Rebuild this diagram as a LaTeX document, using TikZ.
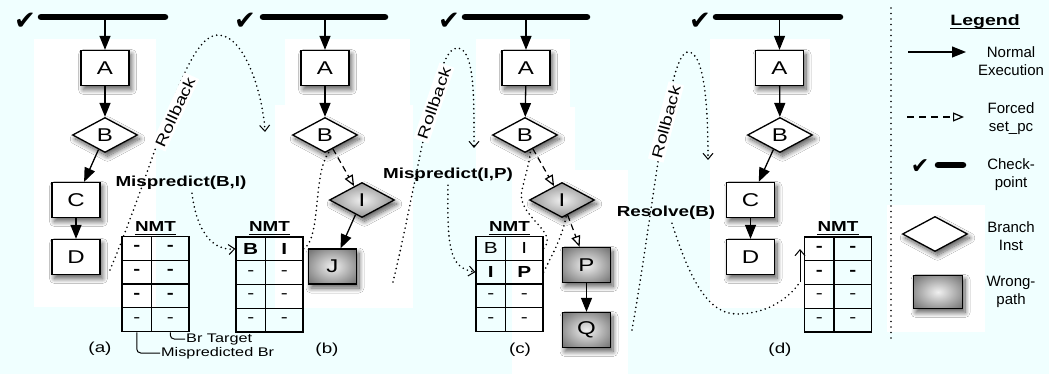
\documentclass[tikz,border=0pt]{standalone}
\usepackage{fontspec}
\setmainfont{Liberation Sans}
\newfontfamily\widefont[FakeStretch=1.3]{Liberation Sans}
\newfontfamily\symfont{DejaVu Sans}
\usetikzlibrary{shapes.geometric,arrows.meta,shadows.blur,matrix}
\definecolor{paper}{RGB}{240,255,255}
\pgfdeclareradialshading{wrongpath}{\pgfpoint{0bp}{0bp}}{color(0bp)=(black!6); color(10bp)=(black!20); color(32bp)=(black!52); color(50bp)=(black!68); color(75bp)=(black!72)}
\begin{document}
\begin{tikzpicture}[x=1pt,y=-1pt,
  shadowed/.style={blur shadow={shadow xshift=2.5pt,shadow yshift=-4pt,shadow blur radius=5pt,shadow blur steps=10,shadow opacity=65}},
  instbox/.style={rectangle,draw,line width=1.3pt,minimum width=48pt,minimum height=35pt,inner sep=0pt,shadowed,font=\widefont\fontsize{18.5}{18.5}\selectfont},
  okbox/.style={instbox,fill=white},
  wrongbox/.style={instbox,shade,shading=wrongpath},
  branch/.style={diamond,draw,line width=1.3pt,minimum width=65pt,minimum height=35pt,aspect=1.8,inner sep=0pt,shadowed,font=\widefont\fontsize{18.5}{18.5}\selectfont},
  okbranch/.style={branch,fill=white},
  wrongbranch/.style={branch,shade,shading=wrongpath},
  flow/.style={line width=1.3pt,-{Triangle[length=14pt,width=11pt]}},
  forced/.style={line width=1.2pt,dash pattern=on 6pt off 4pt,-{Triangle[open,length=11pt,width=9pt,line width=1.2pt]}},
  trail/.style={line width=1.8pt,line cap=round,dash pattern=on 0pt off 4.6pt},
  trailarrow/.style={trail,-{Straight Barb[length=6pt,width=10pt,line width=1pt]}},
  thinarrow/.style={line width=1pt,-{Straight Barb[length=6pt,width=10pt,line width=1pt]}},
  ckmark/.style={inner sep=0pt,font=\symfont\fontsize{26}{26}\selectfont},
  ckbar/.style={line width=6.5pt,line cap=round},
  nmt/.style={matrix of nodes,row sep=-1.3pt,column sep=-1.3pt,
    nodes={draw,line width=1.3pt,minimum height=23.8pt,inner sep=0pt,anchor=center,font=\widefont\fontsize{16}{16}\selectfont},
    column 1/.style={nodes={minimum width=29.5pt}},
    column 2/.style={nodes={minimum width=37.5pt}}},
  nmthead/.style={inner sep=0pt,font=\widefont\bfseries\fontsize{14.5}{14.5}\selectfont},
  event/.style={font=\widefont\bfseries\fontsize{14.5}{14.5}\selectfont},
  rollback/.style={fill=white,inner sep=2.5pt,font=\widefont\fontsize{15}{15}\selectfont},
  sublabel/.style={font=\widefont\fontsize{14.5}{14.5}\selectfont},
  note/.style={inner sep=1pt,font=\widefont\fontsize{12.5}{12.5}\selectfont},
  legtext/.style={align=center,font=\fontsize{15}{18}\selectfont}
]
\useasboundingbox (0,0) rectangle (1049,374);
\fill[paper] (0,0) rectangle (1049,374);

% white panels behind each flow
\fill[white] (34,39) rectangle (156,307);
\fill[white] (285,39) rectangle (410,105);
\fill[white] (275,105) rectangle (413,308);
\fill[white] (476,39) rectangle (570,107);
\fill[white] (476,107) rectangle (575,170);
\fill[white] (512,170) rectangle (628,374);
\fill[white] (710,39) rectangle (830,308);
\fill[white] (887,205) rectangle (985,332);

% ---------------- (a) ----------------
\node[ckmark] (ka) at (25,21) {✔};
\draw[ckbar] (41,17) -- (165,17);
\coordinate (ta) at (105,20);
\node[okbox] (Aa) at (105,68) {A};
\node[okbranch] (Ba) at (105,135) {B};
\node[okbox] (Ca) at (76,200) {C};
\node[okbox] (Da) at (76,257) {D};
\draw[flow] (ta) -- (Aa);
\draw[flow] (Aa) -- (Ba);
\draw[flow] (Ba) -- (Ca);
\draw[flow] (Ca) -- (Da);

\matrix (Ta) [nmt] at (155.5,284) {
  \textbf{-} & \textbf{-} \\
  \textbf{-} & \textbf{-} \\
  \textbf{-} & \textbf{-} \\
  - & - \\
};
\node[nmthead] (Ha) at (155.5,227) {NMT};
\draw[line width=1.5pt] ([yshift=-2.5pt]Ha.base west) -- ([yshift=-2.5pt]Ha.base east);
\node[note,anchor=west] (btg) at (185,339) {Br Target};
\node[note,anchor=west] (mbr) at (160,353) {Mispredicted Br};
\draw[line width=1pt,rounded corners=4pt] (Ta-4-1.south) |- (mbr.west);
\draw[line width=1pt,rounded corners=4pt] (Ta-4-2.south) |- (btg.west);
\node[sublabel] (la) at (100,349) {(a)};

% rollback a -> b
\coordinate (ra0) at (110,270);
\coordinate (ra1) at (265,132);
\draw[trailarrow] (ra0) .. controls (160,150) and (185,35) .. (218,35) .. controls (245,35) and (263,95) .. (ra1);
\node[rollback,rotate=65] (rla) at (175,112) {Rollback};

% ---------------- (b) ----------------
\node[ckmark] (kb) at (245,21) {✔};
\draw[ckbar] (263,17) -- (385,17);
\coordinate (tb) at (325,20);
\node[okbox] (Ab) at (325,68) {A};
\node[okbranch] (Bb) at (325,135) {B};
\node[wrongbranch] (Ib) at (362,200) {I};
\node[wrongbox] (Jb) at (332.5,266.5) {J};
\draw[flow] (tb) -- (Ab);
\draw[flow] (Ab) -- (Bb);
\draw[forced] (Bb) -- (Ib);
\draw[flow] (Ib) -- (Jb);

\matrix (Tb) [nmt] at (269.5,284.5) {
  \textbf{B} & \textbf{I} \\
  - & - \\
  - & - \\
  - & - \\
};
\node[nmthead] (Hb) at (269.5,227) {NMT};
\draw[line width=1.5pt] ([yshift=-2.5pt]Hb.base west) -- ([yshift=-2.5pt]Hb.base east);
\node[sublabel] (lb) at (327,350) {(b)};

\draw[trail] (Tb-1-2.east) .. controls (322,238) and (312,170) .. (Bb.-70);

\node[event] (mBI) at (181,183) {Mispredict(B,I)};
\draw[trailarrow] ([xshift=11pt]mBI.south) .. controls (197,235) and (215,251) .. (Tb-1-1.west);

% rollback b -> c
\coordinate (rb0) at (393,282);
\coordinate (rb1) at (474,148);
\draw[trailarrow] (rb0) .. controls (420,170) and (435,48) .. (457,48) .. controls (475,48) and (474,100) .. (rb1);
\node[rollback,rotate=71] (rlb) at (434,103) {Rollback};

% ---------------- (c) ----------------
\node[ckmark] (kc) at (449,21) {✔};
\draw[ckbar] (465,17) -- (587,17);
\coordinate (tc) at (526,20);
\node[okbox] (Ac) at (526,68) {A};
\node[okbranch] (Bc) at (525,135) {B};
\node[wrongbranch] (Ic) at (562,200) {I};
\node[wrongbox] (Pc) at (586.5,265) {P};
\node[wrongbox] (Qc) at (586.5,330) {Q};
\draw[flow] (tc) -- (Ac);
\draw[flow] (Ac) -- (Bc);
\draw[forced] (Bc) -- (Ic);
\draw[forced] (Ic) -- (Pc);
\draw[flow] (Pc) -- (Qc);

\matrix (Tc) [nmt] at (509.5,284) {
  B & I \\
  \textbf{I} & \textbf{P} \\
  - & - \\
  - & - \\
};
\node[nmthead] (Hc) at (509.5,227) {NMT};
\draw[line width=1.5pt] ([yshift=-2.5pt]Hc.base west) -- ([yshift=-2.5pt]Hc.base east);
\node[sublabel] (lc) at (520,350) {(c)};

\draw[trail] (Tc-1-2.east) .. controls (560,232) and (515,215) .. (522,190) .. controls (526,172) and (530,162) .. (Bc.-70);
\draw[trail] (Tc-2-2.east) .. controls (552,255) and (562,238) .. (Ic.-75);

\node[event] (mIP) at (448,175) {Mispredict(I,P)};
\draw[trailarrow] (mIP.south) .. controls (447,250) and (450,268) .. (Tc-2-1.west);

% rollback c -> d
\coordinate (rc0) at (632,330);
\coordinate (rc1) at (708,160);
\draw[trailarrow] (rc0) .. controls (655,200) and (668,52) .. (688,52) .. controls (705,52) and (708,110) .. (rc1);
\node[rollback,rotate=75] (rlc) at (666,122) {Rollback};

% ---------------- (d) ----------------
\node[ckmark] (kd) at (700,21) {✔};
\draw[ckbar] (716,17) -- (840,17);
\coordinate (td) at (779.5,20);
\node[okbox] (Ad) at (779.5,68) {A};
\node[okbranch] (Bd) at (780,135) {B};
\node[okbox] (Cd) at (750.5,200) {C};
\node[okbox] (Dd) at (750.5,257) {D};
\draw[flow] (td) -- (Ad);
\draw[flow] (Ad) -- (Bd);
\draw[flow] (Bd) -- (Cd);
\draw[flow] (Cd) -- (Dd);

\matrix (Td) [nmt] at (838,284.5) {
  \textbf{-} & \textbf{-} \\
  \textbf{-} & \textbf{-} \\
  - & - \\
  - & - \\
};
\node[nmthead] (Hd) at (838,227) {NMT};
\draw[line width=1.5pt] ([yshift=-2.5pt]Hd.base west) -- ([yshift=-2.5pt]Hd.base east);
\node[sublabel] (ld) at (780,350) {(d)};

\node[event] (rB) at (666,213) {Resolve(B)};
\coordinate (sd) at (800,282);
\coordinate (ed) at (800,249);
\draw[trail] ([xshift=6pt]rB.south) .. controls (690,280) and (708,314) .. (737,314) .. controls (765,314) and (788,300) .. (sd);
\draw[thinarrow] (sd) -- (ed);

% ---------------- legend ----------------
\draw[trail,dash pattern=on 0pt off 5.5pt] (891,8) -- (891,343);
\node[nmthead,font=\widefont\bfseries\fontsize{15}{15}\selectfont] (Hl) at (985,22) {Legend};
\draw[line width=1.5pt] ([yshift=-2.5pt]Hl.base west) -- ([yshift=-2.5pt]Hl.base east);

\coordinate (ln0) at (908,52);
\coordinate (ln1) at (966,52);
\draw[flow,line width=1.1pt] (ln0) -- (ln1);
\node[legtext] (tn) at (1011,61) {Normal\\Execution};

\coordinate (lf0) at (907,117);
\coordinate (lf1) at (964,117);
\draw[forced,line width=1.1pt,dash pattern=on 7pt off 5pt] (lf0) -- (lf1);
\node[legtext] (tf) at (1011,119) {Forced\\set\_pc};

\node[ckmark,font=\symfont\fontsize{22}{22}\selectfont] (kl) at (920,167) {✔};
\draw[ckbar] (938,165) -- (963,165);
\node[legtext] (tk) at (1011,175) {Check-\\point};

\node[okbranch] (lb1) at (935,234) {};
\node[legtext] (tbr) at (1011,236) {Branch\\Inst};

\node[wrongbox,minimum width=49pt,minimum height=33pt] (lw) at (938,292) {};
\node[legtext] (tw) at (1011,292) {Wrong-\\path};
\end{tikzpicture}
\end{document}
